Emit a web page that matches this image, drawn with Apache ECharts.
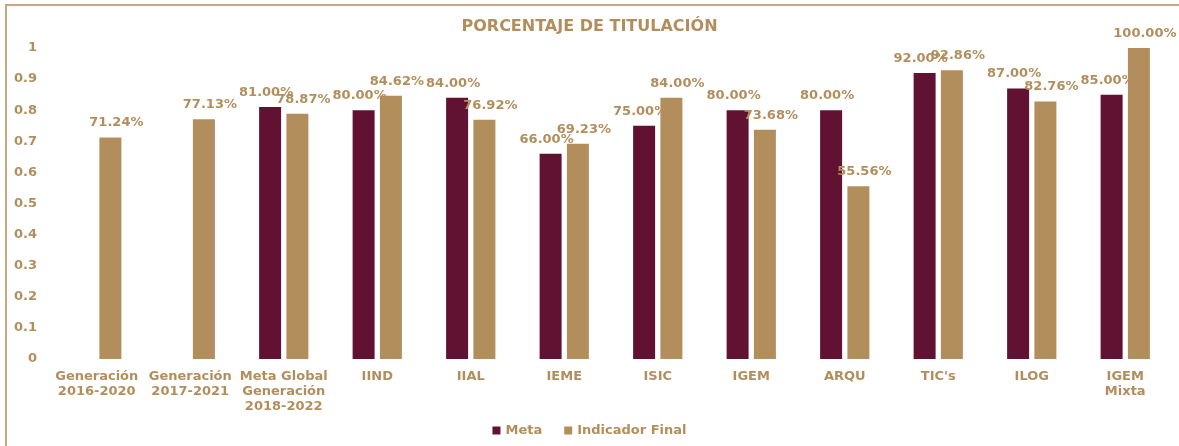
<!DOCTYPE html>
<html><head><meta charset="utf-8">
<script src="https://cdn.jsdelivr.net/npm/echarts@6/dist/echarts.min.js"></script>
<style>html,body{margin:0;padding:0;background:#fff}#c{width:1179px;height:446px}</style>
</head><body><div id="c"></div>
<script>
const categories = ['Generación\n2016-2020','Generación\n2017-2021','Meta Global\nGeneración\n2018-2022','IIND','IIAL','IEME','ISIC','IGEM','ARQU',"TIC's",'ILOG','IGEM\nMixta'];
const meta = [null, null, 0.81, 0.80, 0.84, 0.66, 0.75, 0.80, 0.80, 0.92, 0.87, 0.85];
const indicadorFinal = [0.7124, 0.7713, 0.7887, 0.8462, 0.7692, 0.6923, 0.84, 0.7368, 0.5556, 0.9286, 0.8276, 1.0];
const yTicks = ['0','0.1','0.2','0.3','0.4','0.5','0.6','0.7','0.8','0.9','1'];

const TAN = '#B38E5D', MAROON = '#611232';
const FONT = 'DejaVu Sans';
const chart = echarts.init(document.getElementById('c'));
const pct = p => p.value == null ? '' : (p.value * 100).toFixed(2) + '%';
chart.setOption({
  animation: false,
  title: { text: 'PORCENTAJE DE TITULACIÓN', left: 'center', top: 14,
    textStyle: { color: TAN, fontFamily: FONT, fontWeight: 'bold', fontSize: 16 } },
  graphic: [{ type: 'rect', shape: { x: 6, y: 5, width: 1300, height: 600 },
    style: { fill: 'none', stroke: '#C8A77E', lineWidth: 2 } }],
  legend: { bottom: 4, left: 'center', itemWidth: 8, itemHeight: 8, itemGap: 22,
    icon: 'rect',
    textStyle: { color: TAN, fontFamily: FONT, fontWeight: 'bold', fontSize: 13 },
    data: ['Meta', 'Indicador Final'] },
  grid: { left: 50, right: 7, top: 48, bottom: 87, containLabel: false },
  xAxis: { type: 'category', data: categories,
    axisLine: { show: false }, axisTick: { show: false },
    axisLabel: { color: TAN, fontFamily: FONT, fontWeight: 'bold', fontSize: 13, margin: 10, lineHeight: 15, interval: 0 } },
  yAxis: { type: 'value', min: 0, max: 1, interval: 0.1,
    splitLine: { show: false }, axisLine: { show: false }, axisTick: { show: false },
    axisLabel: { color: TAN, fontFamily: FONT, fontWeight: 'bold', fontSize: 13, margin: 13,
      formatter: v => yTicks[Math.round(v * 10)] } },
  series: [
    { name: 'Meta', type: 'bar', data: meta, barWidth: 22, barGap: '24%',
      itemStyle: { color: MAROON },
      label: { show: true, position: 'top', offset: [-4, -3], formatter: pct,
        color: TAN, fontFamily: FONT, fontWeight: 'bold', fontSize: 13 } },
    { name: 'Indicador Final', type: 'bar', data: indicadorFinal, barWidth: 22,
      itemStyle: { color: TAN },
      label: { show: true, position: 'top', offset: [6, -3], formatter: pct,
        color: TAN, fontFamily: FONT, fontWeight: 'bold', fontSize: 13 } }
  ]
});
</script></body></html>
